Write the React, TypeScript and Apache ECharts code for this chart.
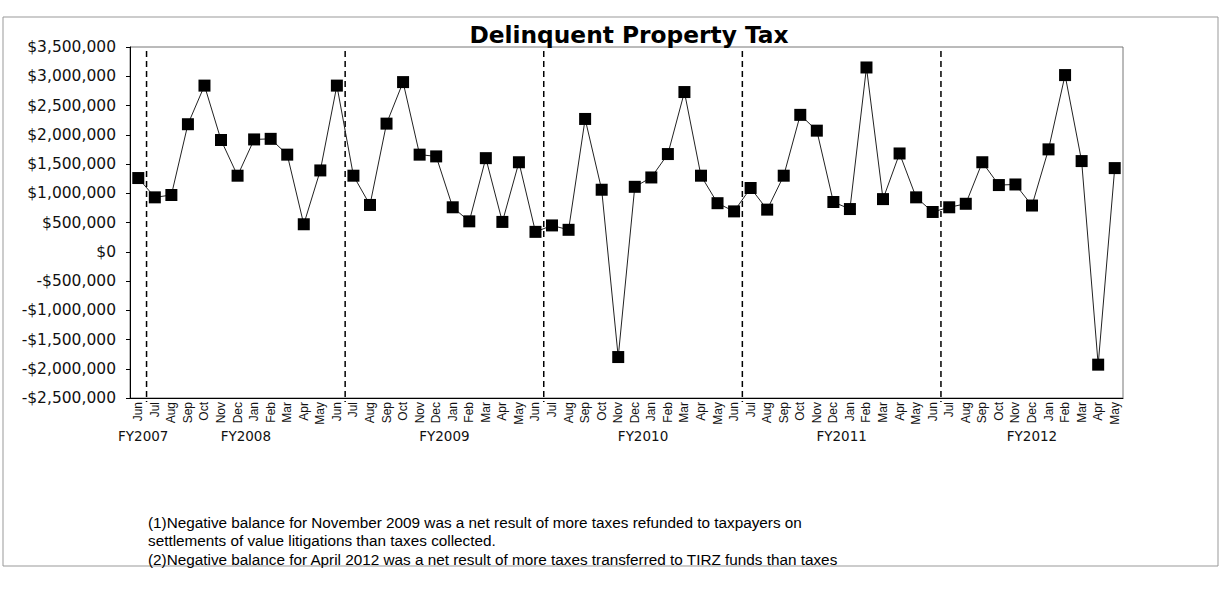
import React, { useEffect, useRef } from 'react';
import * as echarts from 'echarts';

const months = [
  'Jun', 'Jul', 'Aug', 'Sep', 'Oct', 'Nov', 'Dec', 'Jan', 'Feb', 'Mar', 'Apr', 'May',
  'Jun', 'Jul', 'Aug', 'Sep', 'Oct', 'Nov', 'Dec', 'Jan', 'Feb', 'Mar', 'Apr', 'May',
  'Jun', 'Jul', 'Aug', 'Sep', 'Oct', 'Nov', 'Dec', 'Jan', 'Feb', 'Mar', 'Apr', 'May',
  'Jun', 'Jul', 'Aug', 'Sep', 'Oct', 'Nov', 'Dec', 'Jan', 'Feb', 'Mar', 'Apr', 'May',
  'Jun', 'Jul', 'Aug', 'Sep', 'Oct', 'Nov', 'Dec', 'Jan', 'Feb', 'Mar', 'Apr', 'May',
];

const collections = [
  1260000, 930000, 970000, 2180000, 2840000, 1910000, 1300000, 1920000, 1930000, 1660000, 470000, 1390000,
  2840000, 1300000, 800000, 2190000, 2900000, 1660000, 1630000, 760000, 520000, 1600000, 510000, 1530000,
  340000, 450000, 375000, 2270000, 1060000, -1800000, 1110000, 1270000, 1670000, 2730000, 1300000, 830000,
  690000, 1090000, 720000, 1300000, 2340000, 2070000, 850000, 730000, 3150000, 900000, 1680000, 930000,
  680000, 760000, 820000, 1530000, 1140000, 1150000, 790000, 1750000, 3020000, 1550000, -1930000, 1430000,
];

const fiscalYears = ['FY2007', 'FY2008', 'FY2009', 'FY2010', 'FY2011', 'FY2012'];
const fiscalYearCenters = [0.3, 6.5, 18.5, 30.5, 42.5, 54];
const fiscalYearBoundaries = [0.5, 12.5, 24.5, 36.5, 48.5];

const titleText = 'Delinquent Property Tax';
const footnotes = [
  '(1)Negative balance for November 2009 was a net result of more taxes refunded to taxpayers on',
  'settlements of value litigations than taxes collected.',
  '(2)Negative balance for April 2012 was a net result of more taxes transferred to TIRZ funds than taxes',
];

const Y_MIN = -2500000;
const Y_MAX = 3500000;

const fmtMoney = (v: number) => {
  const abs = Math.abs(v).toLocaleString('en-US');
  return (v < 0 ? '-$' : '$') + abs;
};

export default function App() {
  const ref = useRef<HTMLDivElement>(null);
  useEffect(() => {
    if (!ref.current) return;
    const chart = echarts.init(ref.current, undefined, { renderer: 'svg' });
    const option: any = {
      animation: false,
      backgroundColor: '#fff',
      grid: {
        left: 130, right: 98, top: 47, bottom: 201,
        show: true, borderColor: '#777', borderWidth: 1,
      },
      xAxis: [
        {
          type: 'category',
          data: months,
          boundaryGap: true,
          axisLine: { onZero: false, lineStyle: { color: '#000', width: 1 } },
          axisTick: { show: false },
          axisLabel: {
            interval: 0, rotate: 90, margin: 4,
            fontFamily: 'Liberation Sans, Arial', fontSize: 12, color: '#111',
          },
          splitLine: { show: false },
        },
        {
          type: 'value', min: -0.5, max: 59.5, show: false,
          axisLine: { onZero: false },
        },
      ],
      yAxis: {
        type: 'value',
        min: Y_MIN, max: Y_MAX, interval: 500000,
        axisLine: { show: true, onZero: false, lineStyle: { color: '#000', width: 1 } },
        axisTick: { show: true, length: 4, lineStyle: { color: '#000' } },
        axisLabel: {
          formatter: fmtMoney, margin: 14,
          fontFamily: 'DejaVu Sans', fontSize: 15.5, color: '#111',
        },
        splitLine: { show: false },
      },
      series: [
        {
          type: 'line',
          data: collections,
          symbol: 'rect',
          symbolSize: 12,
          lineStyle: { color: '#222', width: 1 },
          itemStyle: { color: '#000' },
        },
      ],
    };
    chart.setOption(option);

    const yTop = chart.convertToPixel({ yAxisIndex: 0 }, Y_MAX) as number;
    const yBottom = chart.convertToPixel({ yAxisIndex: 0 }, Y_MIN) as number;

    const boundaryLines = fiscalYearBoundaries.map((b) => {
      const x = chart.convertToPixel({ xAxisIndex: 1 }, b) as number;
      return {
        type: 'line', silent: true,
        shape: { x1: x, y1: yTop + 4, x2: x, y2: yBottom + 4 },
        style: { stroke: '#000', lineWidth: 1.5, lineDash: [6, 4] },
      };
    });

    const fyTexts = fiscalYears.map((t, i) => {
      const x = chart.convertToPixel({ xAxisIndex: 1 }, fiscalYearCenters[i]) as number;
      return {
        type: 'text', x, y: 436,
        style: {
          text: t, align: 'center', verticalAlign: 'middle',
          font: '13.5px DejaVu Sans', fill: '#111',
        },
      };
    });

    chart.setOption({
      graphic: [
        {
          type: 'rect', shape: { x: 3, y: 17, width: 1215, height: 549 },
          style: { fill: 'none', stroke: '#999', lineWidth: 1 }, silent: true,
        },
        ...boundaryLines,
        {
          type: 'text', x: 629, y: 34,
          style: {
            text: titleText, align: 'center', verticalAlign: 'middle',
            font: 'bold 23.3px DejaVu Sans', fill: '#000',
          },
        },
        ...fyTexts,
        ...footnotes.map((t, i) => ({
          type: 'text', x: 148, y: 522 + i * 18.5,
          style: {
            text: t, align: 'left', verticalAlign: 'middle',
            font: '15.3px Liberation Sans, Arial', fill: '#000',
          },
        })),
      ],
    });
    return () => chart.dispose();
  }, []);
  return (
    <div
      ref={ref}
      style={{ position: 'fixed', left: 0, top: 0, width: 1221, height: 599, background: '#fff' }}
    />
  );
}
